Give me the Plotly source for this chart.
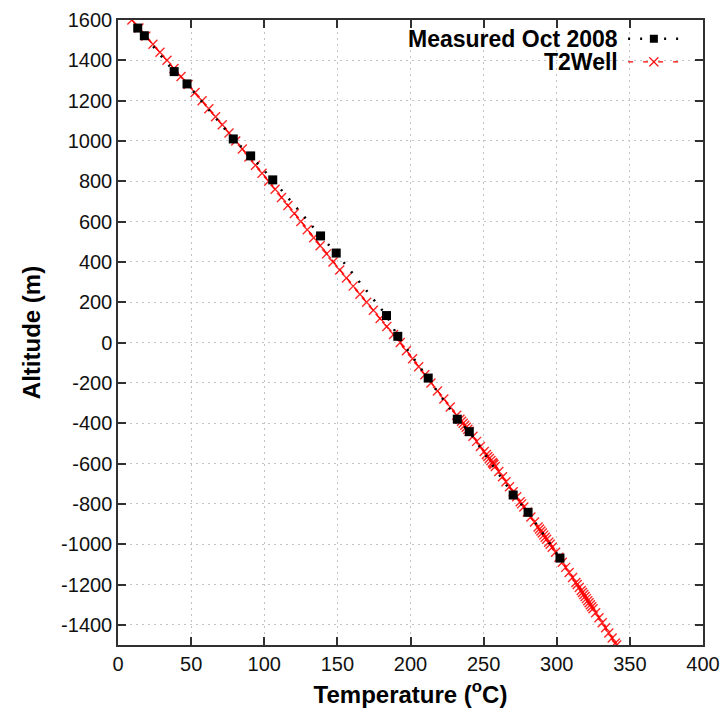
import plotly.graph_objects as go

# Measured well temperatures, Oct 2008
measured_temp = [13.5, 18.0, 38.4, 47.2, 78.8, 90.7, 105.8, 138.5, 149.2,
                 183.6, 191.3, 212.1, 232.0, 240.2, 270.2, 280.4, 302.2]
measured_alt = [1560, 1522, 1344, 1283, 1010, 926, 807, 529, 444,
                134, 31, -176, -380, -442, -756, -842, -1069]

# T2Well simulated profile (altitude in m, temperature in degC)
t2well_alt = [1600, 1560, 1520, 1480, 1440, 1400, 1360, 1320, 1280, 1240,
              1200, 1160, 1120, 1080, 1040, 1000, 960, 920, 880, 840,
              800, 760, 720, 680, 640, 600, 560, 520, 480, 440,
              400, 360, 320, 280, 240, 200, 160, 120, 80, 40,
              0, -40, -80, -120, -160, -200, -240, -280, -320, -360,
              -380, -390, -400, -410, -420, -430, -440, -465, -490, -515,
              -540, -555, -565, -575, -585, -595, -600, -605, -615, -640,
              -665, -690, -715, -740, -765, -790, -800, -815, -840, -865,
              -890, -915, -925, -935, -945, -955, -965, -975, -990, -1000,
              -1015, -1040, -1065, -1090, -1115, -1140, -1165, -1190, -1200, -1215,
              -1230, -1240, -1250, -1260, -1270, -1280, -1290, -1300, -1310, -1320,
              -1340, -1365, -1390, -1415, -1440, -1465, -1490, -1500]
t2well_temp = [9.5, 14.3, 19.1, 23.9, 28.7, 33.5, 38.3, 43.1, 47.9, 52.7,
               57.5, 62.1, 66.7, 71.3, 75.9, 80.5, 85.0, 89.5, 94.0, 98.5,
               103.0, 107.4, 111.8, 116.2, 120.6, 125.0, 129.4, 133.8, 138.2, 142.6,
               147.0, 151.6, 156.2, 160.8, 165.4, 170.0, 174.6, 179.2, 183.8, 188.4,
               193.0, 197.2, 201.4, 205.6, 209.8, 214.0, 218.4, 222.8, 227.2, 231.6,
               233.8, 234.9, 236.0, 237.1, 238.1, 239.2, 240.1, 242.7, 245.2, 247.8,
               250.4, 251.9, 252.9, 253.9, 255.0, 256.0, 256.5, 257.0, 258.0, 260.4,
               262.9, 265.3, 267.7, 270.2, 272.6, 275.0, 276.0, 277.5, 279.9, 282.3,
               284.8, 287.2, 288.2, 289.2, 290.1, 291.1, 292.1, 293.1, 294.5, 295.5,
               296.9, 299.2, 301.5, 303.8, 306.1, 308.5, 310.8, 313.1, 314.0, 315.4,
               316.7, 317.6, 318.5, 319.4, 320.3, 321.2, 322.1, 323.0, 323.9, 324.8,
               326.6, 328.9, 331.1, 333.4, 335.6, 337.9, 340.1, 341.0]

x_ticks = [0, 50, 100, 150, 200, 250, 300, 350, 400]
y_ticks = [-1400, -1200, -1000, -800, -600, -400, -200, 0, 200, 400,
           600, 800, 1000, 1200, 1400, 1600]

series_names = ["Measured Oct 2008", "T2Well"]

RED = "#ff0000"
BLACK = "#000000"
FONT = "Liberation Sans, Arial, sans-serif"

fig = go.Figure()

# T2Well model: red dashed line with x markers
fig.add_trace(go.Scatter(
    x=t2well_temp, y=t2well_alt, mode="lines+markers", name=series_names[1],
    line=dict(color=RED, width=1.3, dash="6px,6px"),
    marker=dict(symbol="x-thin-open", size=9, color=RED,
                line=dict(color=RED, width=1.4), opacity=0.85),
    showlegend=False,
))

# Measured profile: black dotted line with square markers
fig.add_trace(go.Scatter(
    x=measured_temp, y=measured_alt, mode="lines+markers", name=series_names[0],
    line=dict(color=BLACK, width=2.5, dash="2px,10px"),
    marker=dict(symbol="square", size=9, color=BLACK),
    showlegend=False,
))

# Key samples drawn on an overlay axis spanning the plot area (0..1)
key_x0, key_xm, key_x1 = 0.872, 0.916, 0.961
key_rows = [0.970, 0.933]
fig.add_trace(go.Scatter(
    x=[key_x0, key_x1], y=[key_rows[0]] * 2, mode="lines",
    line=dict(color=BLACK, width=2.5, dash="2px,10px"),
    xaxis="x2", yaxis="y2", showlegend=False, hoverinfo="skip",
))
fig.add_trace(go.Scatter(
    x=[key_xm], y=[key_rows[0]], mode="markers",
    marker=dict(symbol="square", size=8, color=BLACK),
    xaxis="x2", yaxis="y2", showlegend=False, hoverinfo="skip",
))
fig.add_trace(go.Scatter(
    x=[key_x0, key_x1], y=[key_rows[1]] * 2, mode="lines",
    line=dict(color=RED, width=1.3, dash="5px,10px"),
    xaxis="x2", yaxis="y2", showlegend=False, hoverinfo="skip",
))
fig.add_trace(go.Scatter(
    x=[key_xm], y=[key_rows[1]], mode="markers",
    marker=dict(symbol="x-thin-open", size=9, color=RED,
                line=dict(color=RED, width=1.4)),
    xaxis="x2", yaxis="y2", showlegend=False, hoverinfo="skip",
))

for name, yrow in zip(series_names, key_rows):
    fig.add_annotation(
        x=0.856, y=yrow, xref="x2", yref="y2", text="<b>%s</b>" % name,
        showarrow=False, xanchor="right", yanchor="middle", borderpad=0,
        font=dict(family=FONT, size=23, color=BLACK),
    )

axis_common = dict(
    showline=True, linecolor="#303030", linewidth=1.5, mirror="ticks",
    ticks="inside", ticklen=8, tickwidth=1.5, tickcolor="#303030",
    showgrid=True, gridcolor="#c4c4c4", gridwidth=1, griddash="2px,4px",
    zeroline=False, automargin=False,
    tickfont=dict(family=FONT, size=20, color="#111111"),
)

fig.update_layout(
    width=723, height=713,
    margin=dict(l=118, r=20, t=20, b=68),
    paper_bgcolor="white", plot_bgcolor="white",
    xaxis=dict(
        range=[0, 400], tickvals=x_ticks, ticktext=[str(v) for v in x_ticks],
        title=dict(text="<b>Temperature (<sup>o</sup>C)</b>", standoff=12,
                   font=dict(family=FONT, size=24, color=BLACK)),
        **axis_common,
    ),
    yaxis=dict(
        range=[-1500, 1600], tickvals=y_ticks, ticktext=[str(v) for v in y_ticks],
        title=dict(text="<b>Altitude (m)</b>", standoff=14,
                   font=dict(family=FONT, size=24, color=BLACK)),
        **axis_common,
    ),
    xaxis2=dict(range=[0, 1], overlaying="x", visible=False, fixedrange=True),
    yaxis2=dict(range=[0, 1], overlaying="y", visible=False, fixedrange=True),
    showlegend=False,
)

fig.write_html("out.html")
